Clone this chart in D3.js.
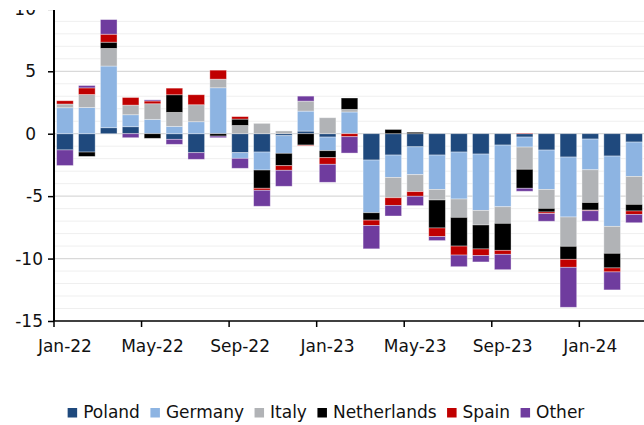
<!DOCTYPE html>
<html><head><meta charset="utf-8">
<script src="https://cdn.jsdelivr.net/npm/d3@7"></script>
<style>
html,body{margin:0;padding:0;background:#fff;}
svg{display:block;font-family:"DejaVu Sans",Verdana,sans-serif;}
</style></head>
<body><svg id="c" width="644" height="425"></svg>
<script>
const months = ["Jan-22","Feb-22","Mar-22","Apr-22","May-22","Jun-22","Jul-22","Aug-22","Sep-22","Oct-22","Nov-22","Dec-22",
"Jan-23","Feb-23","Mar-23","Apr-23","May-23","Jun-23","Jul-23","Aug-23","Sep-23","Oct-23","Nov-23","Dec-23",
"Jan-24","Feb-24","Mar-24"];
const seriesNames = ["Poland","Germany","Italy","Netherlands","Spain","Other"];
const poland      = [-1.3,-1.47,0.48,0.56,0,-0.45,-1.52,0,-1.52,-1.47,-0.16,0.21,-0.27,0,-2.11,-1.71,-1.05,-1.71,-1.47,-1.63,-0.91,-0.27,-1.31,-1.87,-0.43,-1.79,-0.67];
const germany     = [2.08,2.1,4.94,0.96,1.15,0.59,0.96,3.68,-0.45,-1.44,-1.41,1.6,-1.09,1.74,-4.22,-1.79,-2.23,-2.75,-3.76,-4.51,-4.94,-0.8,-3.15,-4.8,-2.46,-5.63,-2.75];
const italy       = [0.3,1.04,1.41,0.77,1.25,1.12,1.36,0.69,0.66,0.83,0.22,0.8,1.28,0.21,0,-1.63,-1.36,-0.85,-1.47,-1.17,-1.33,-1.78,-1.52,-2.35,-2.62,-2.16,-2.24];
const netherlands = [0,-0.35,0.5,0,-0.37,1.41,0,-0.19,0.51,-1.46,-0.99,-0.91,-0.56,0.91,-0.59,0.34,0.12,-2.24,-2.3,-1.92,-2.16,-1.52,-0.29,-1.04,-0.61,-1.17,-0.53];
const spain       = [0.26,0.53,0.64,0.61,0.22,0.53,0.8,0.72,0.2,-0.16,-0.37,-0.05,-0.53,-0.24,-0.43,-0.61,-0.37,-0.69,-0.72,-0.53,-0.32,0.05,-0.13,-0.64,-0.05,-0.32,-0.27];
const other       = [-1.25,0.19,1.17,-0.32,0.09,-0.4,-0.53,-0.13,-0.8,-1.28,-1.28,0.4,-1.44,-1.31,-1.87,-0.85,-0.75,-0.32,-0.93,-0.51,-1.23,-0.24,-0.61,-3.2,-0.83,-1.44,-0.67];
const yTicks = [-15,-10,-5,0,5,10];
const xLabelMonths = ["Jan-22","May-22","Sep-22","Jan-23","May-23","Sep-23","Jan-24"];
const colors = ["#1F497D","#8DB4E2","#B1B3B6","#000000","#C00000","#6F3C9E"];

const values = [poland,germany,italy,netherlands,spain,other];
const table = months.map((m,i)=>{const o={month:m}; seriesNames.forEach((s,k)=>o[s]=values[k][i]); return o;});

const svg = d3.select("#c");
const pLeft=54, pRight=645, pTop=8.85, pBottom=321;
const x = d3.scaleBand().domain(months).range([pLeft,pRight]).paddingInner(0.24).paddingOuter(0.12);
const y = d3.scaleLinear().domain([-15,10]).range([pBottom,pTop]);
const color = d3.scaleOrdinal().domain(seriesNames).range(colors);

// gridlines
const minor = d3.range(-14,10).filter(v=>v%5!==0);
svg.append("g").selectAll("line").data(minor).join("line")
  .attr("x1",pLeft).attr("x2",644).attr("y1",d=>y(d)).attr("y2",d=>y(d))
  .attr("stroke","#efefef").attr("stroke-width",1);
svg.append("g").selectAll("line").data([-10,-5,0,5,10]).join("line")
  .attr("x1",pLeft).attr("x2",644).attr("y1",d=>y(d)).attr("y2",d=>y(d))
  .attr("stroke","#d9d9d9").attr("stroke-width",1.2);

// bars
const stack = d3.stack().keys(seriesNames).offset(d3.stackOffsetDiverging);
const layers = stack(table);
svg.append("g").selectAll("g").data(layers).join("g")
  .attr("fill",d=>color(d.key))
  .selectAll("rect").data(d=>d.filter(p=>p[1]!==p[0])).join("rect")
  .attr("x",d=>x(d.data.month)).attr("width",x.bandwidth())
  .attr("y",d=>y(Math.max(d[0],d[1]))).attr("height",d=>Math.abs(y(d[0])-y(d[1])))
  .attr("stroke","rgba(255,255,255,0.45)").attr("stroke-width",0.8);

// y axis
const yAxis = d3.axisLeft(y).tickValues(yTicks).tickSize(6).tickPadding(10).tickFormat(d=>String(d));
const gy = svg.append("g").attr("transform",`translate(${pLeft},0)`).call(yAxis);
gy.select(".domain").attr("stroke","#000").attr("stroke-width",2).attr("d",`M0,${y(10)}V${pBottom}`);
gy.selectAll(".tick line").attr("stroke","#000").attr("stroke-width",1.5);
gy.selectAll(".tick text").attr("font-size",17).attr("fill","#111")
  .attr("font-family",'"DejaVu Sans",Verdana,sans-serif')
  .attr("x",d=>d<0?-11:-18);

// x axis
const off = (x.step()-x.bandwidth())/2;
const gx = svg.append("g").attr("transform",`translate(0,${pBottom})`);
gx.append("line").attr("x1",pLeft).attr("x2",644).attr("y1",0).attr("y2",0).attr("stroke","#000").attr("stroke-width",1.5);
gx.selectAll("line.t").data(xLabelMonths).join("line").attr("class","t")
  .attr("x1",d=>x(d)-off).attr("x2",d=>x(d)-off).attr("y1",0).attr("y2",6)
  .attr("stroke","#000").attr("stroke-width",1.5);
gx.selectAll("text").data(xLabelMonths).join("text")
  .attr("x",d=>x(d)+x.bandwidth()/2).attr("y",31).attr("text-anchor","middle")
  .attr("font-size",17).attr("fill","#111").text(d=>d);

// legend
const lg = svg.append("g");
let cx = 0;
seriesNames.forEach((s,i)=>{
  const g = lg.append("g");
  g.append("rect").attr("x",0).attr("y",-10).attr("width",9.5).attr("height",9.5).attr("fill",colors[i]);
  const t = g.append("text").attr("x",15.5).attr("y",0).attr("font-size",17).attr("fill","#111").text(s);
  const w = t.node().getComputedTextLength();
  g.attr("transform",`translate(${cx},0)`);
  cx += 15.5 + w + 10.5;
});
const totalW = cx - 10.5;
lg.attr("transform",`translate(${326 - totalW/2},418)`);

// top cover (reference is clipped at top)
svg.append("rect").attr("x",0).attr("y",0).attr("width",644).attr("height",10).attr("fill","#fff");
</script></body></html>
